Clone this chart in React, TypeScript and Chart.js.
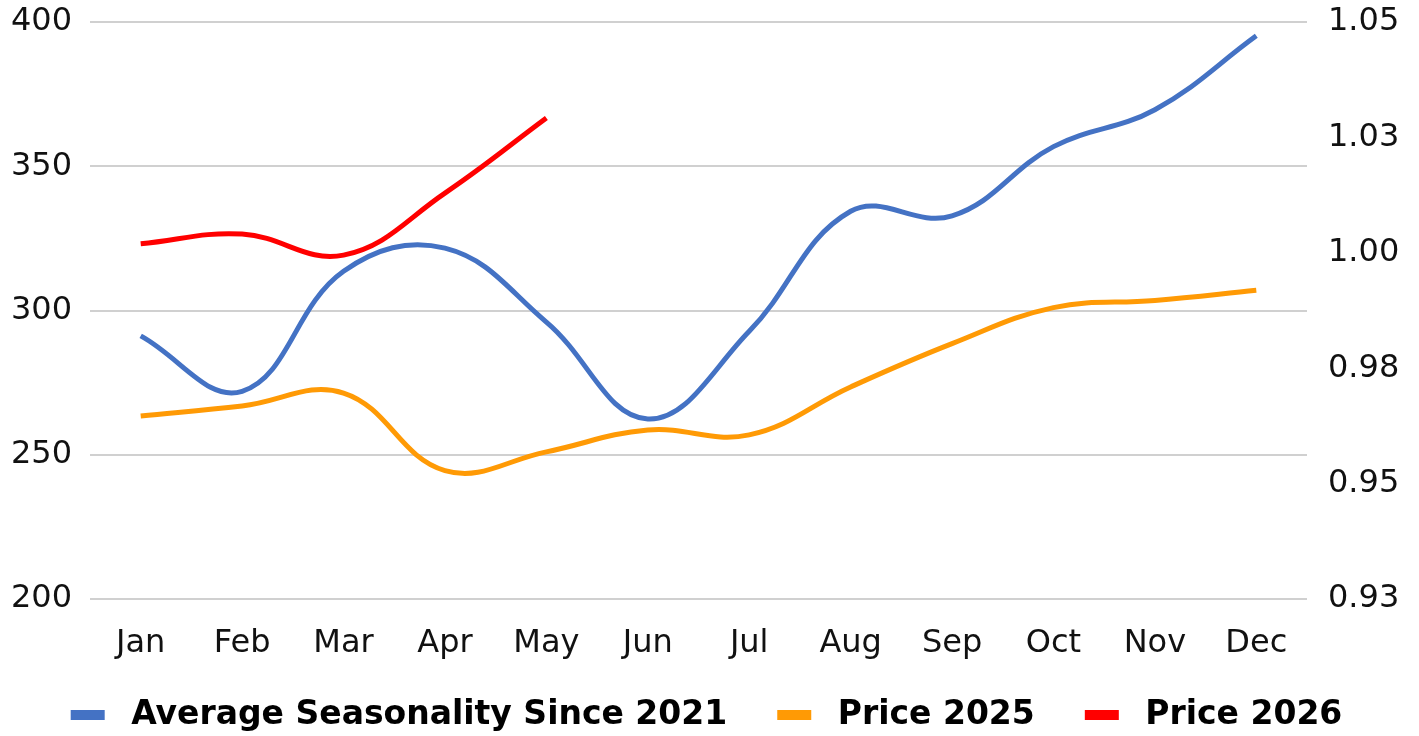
import React, { useEffect, useRef } from "react";
import { Chart, registerables } from "chart.js";

Chart.register(...registerables);

const months = ["Jan", "Feb", "Mar", "Apr", "May", "Jun", "Jul", "Aug", "Sep", "Oct", "Nov", "Dec"];
const seasonality = [0.982, 0.97, 0.996, 1.001, 0.985, 0.964, 0.983, 1.009, 1.008, 1.023, 1.031, 1.047];
const price2025 = [263.4, 266.9, 271.4, 244.5, 251, 258.6, 256.9, 273.5, 288.5, 301, 303.5, 307];
const price2026 = [323.1, 326.5, 319.2, 340.7, 366.7, null, null, null, null, null, null, null];
const seriesNames = ["Average Seasonality Since 2021", "Price 2025", "Price 2026"];
const seriesColors = ["#4472C4", "#FF9A05", "#FF0000"];

const FONT = "'DejaVu Sans', Verdana, sans-serif";

function makeSwatch(color: string): HTMLCanvasElement {
  const c = document.createElement("canvas");
  c.width = 56;
  c.height = 10;
  const g = c.getContext("2d")!;
  g.fillStyle = color;
  g.fillRect(12, 0, 34, 10);
  return c;
}

export default function App() {
  const ref = useRef<HTMLCanvasElement | null>(null);

  useEffect(() => {
    if (!ref.current) return;
    const chart = new Chart(ref.current, {
      type: "line",
      data: {
        labels: months,
        datasets: [
          {
            label: seriesNames[0],
            data: seasonality,
            yAxisID: "yRight",
            borderColor: seriesColors[0],
            backgroundColor: seriesColors[0],
            borderWidth: 5,
            pointRadius: 0,
            tension: 0.4,
          },
          {
            label: seriesNames[1],
            data: price2025,
            yAxisID: "yLeft",
            borderColor: seriesColors[1],
            backgroundColor: seriesColors[1],
            borderWidth: 5,
            pointRadius: 0,
            tension: 0.4,
          },
          {
            label: seriesNames[2],
            data: price2026,
            yAxisID: "yLeft",
            borderColor: seriesColors[2],
            backgroundColor: seriesColors[2],
            borderWidth: 5,
            pointRadius: 0,
            tension: 0.4,
            spanGaps: false,
          },
        ],
      },
      options: {
        animation: false,
        responsive: false,
        devicePixelRatio: 1,
        layout: { padding: { top: 22, left: 0, right: 18, bottom: 0 } },
        plugins: {
          tooltip: { enabled: false },
          legend: {
            position: "bottom",
            maxHeight: 75.5,
            labels: {
              usePointStyle: true,
              pointStyleWidth: 56,
              padding: 38,
              color: "#000",
              font: { family: FONT, size: 33, weight: "bold" },
              generateLabels: (ch: any) => {
                const items = Chart.defaults.plugins.legend.labels.generateLabels(ch);
                return items.map((it: any, i: number) => ({
                  ...it,
                  pointStyle: makeSwatch(seriesColors[i]),
                }));
              },
            },
          },
        },
        scales: {
          x: {
            offset: true,
            grid: { display: false, drawTicks: false },
            border: { display: false },
            ticks: {
              color: "#111",
              font: { family: FONT, size: 32 },
              padding: 25,
              maxRotation: 0,
              autoSkip: false,
            },
            afterFit: (s: any) => {
              s.height = 61.5;
            },
          },
          yLeft: {
            position: "left",
            min: 200,
            max: 400,
            grid: {
              color: "#D0D0D0",
              lineWidth: 2,
              drawTicks: true,
              tickLength: 18,
              tickColor: "rgba(0,0,0,0)",
            },
            border: { display: false },
            ticks: {
              stepSize: 50,
              color: "#111",
              font: { family: FONT, size: 32 },
              padding: 0,
            },
            afterFit: (s: any) => {
              s.width = 90;
            },
          },
          yRight: {
            position: "right",
            min: 0.925,
            max: 1.05,
            grid: {
              color: "rgba(0,0,0,0)",
              drawOnChartArea: false,
              drawTicks: true,
              tickLength: 21,
              tickColor: "rgba(0,0,0,0)",
            },
            border: { display: false },
            ticks: {
              stepSize: 0.025,
              color: "#111",
              font: { family: FONT, size: 32 },
              padding: 0,
              callback: (v: any) => (Math.round(Number(v) * 100 + 1e-6) / 100).toFixed(2),
            },
            afterFit: (s: any) => {
              s.width = 94;
            },
          },
        },
      },
    });
    return () => chart.destroy();
  }, []);

  return (
    <div style={{ position: "absolute", left: 0, top: 0, width: 1419, height: 736 }}>
      <canvas ref={ref} width={1419} height={736} style={{ display: "block" }} />
    </div>
  );
}
